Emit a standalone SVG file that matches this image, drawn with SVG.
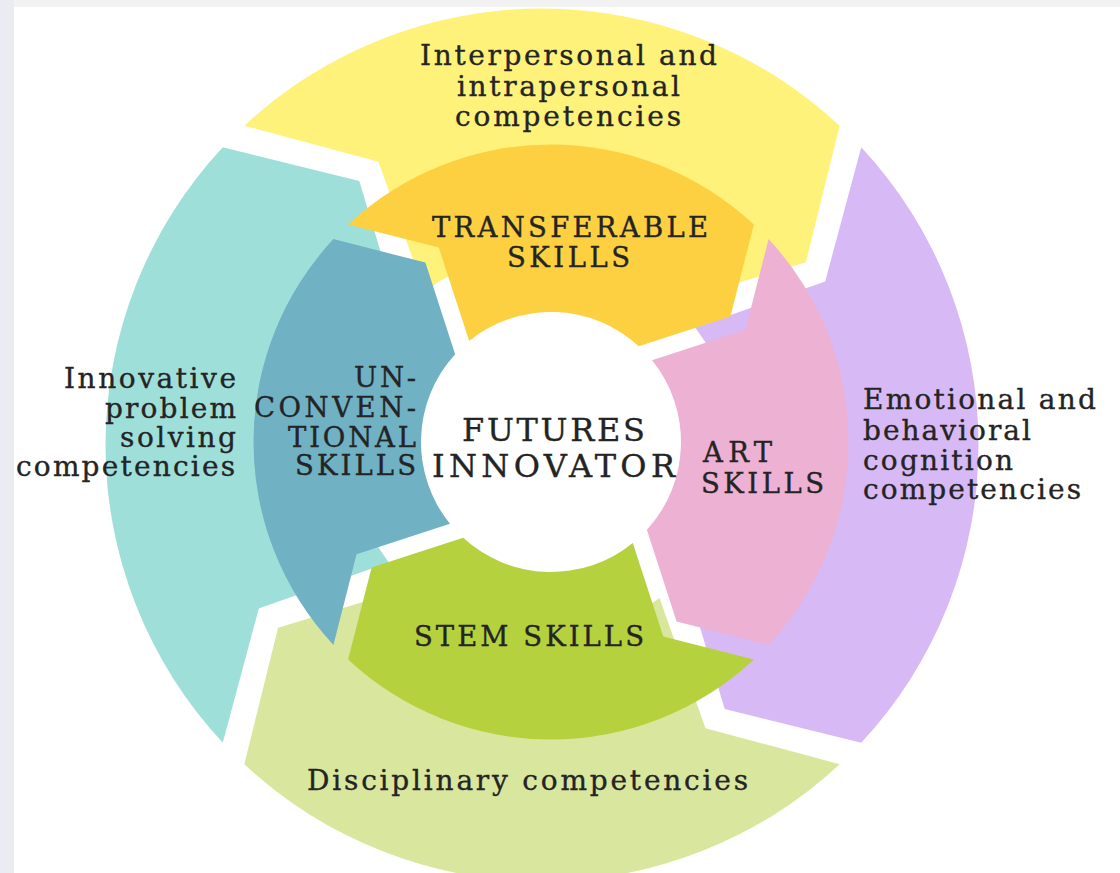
<svg xmlns="http://www.w3.org/2000/svg" width="1120" height="873" viewBox="0 0 1120 873">
<style>
.bg{fill:#ffffff}
.lbl{font-family:"DejaVu Serif","Liberation Serif",serif;font-size:28px;fill:#242424;stroke:#242424;stroke-width:0.35px}
.skill{font-family:"DejaVu Serif","Liberation Serif",serif;font-size:27.5px;fill:#242424;stroke:#242424;stroke-width:0.35px}
.core{font-family:"DejaVu Serif","Liberation Serif",serif;font-size:32px;fill:#242424;stroke:#242424;stroke-width:0.35px}
.yellow{fill:#FFF27B}
.purple{fill:#D7B9F5}
.lgreen{fill:#D9E69E}
.lteal{fill:#9FDFDA}
.orange{fill:#FDD042}
.pink{fill:#EDB1D4}
.green{fill:#B5D13D}
.dteal{fill:#70B1C4}
</style>
<rect x="0" y="0" width="1120" height="873" fill="#f2f2f2"/>
<rect x="0" y="0" width="14" height="873" fill="#e9ecf1"/>
<rect x="14" y="7" width="1106" height="866" class="bg"/>

<g id="outer-ring">
<g id="interpersonal">
<path class="yellow" d="M244.31 125.77 A436.5 436.5 0 0 1 839.69 125.77 L805.91 262.26 L672.39 302.70 A193 193 0 0 0 424.51 291.88 L378.5 161.81 Z"/>
<text class="lbl"><tspan x="420" y="65" textLength="297" lengthAdjust="spacing">Interpersonal and</tspan><tspan x="457" y="96" textLength="223" lengthAdjust="spacing">intrapersonal</tspan><tspan x="455" y="126" textLength="226" lengthAdjust="spacing">competencies</tspan></text>
</g>
<g id="emotional">
<path class="purple" d="M861.23 147.31 A436.5 436.5 0 0 1 861.23 742.69 L724.74 708.91 L684.30 575.39 A193 193 0 0 0 695.12 327.51 L825.19 281.5 Z"/>
<text class="lbl"><tspan x="863" y="409" textLength="233" lengthAdjust="spacing">Emotional and</tspan><tspan x="863" y="440" textLength="168" lengthAdjust="spacing">behavioral</tspan><tspan x="863" y="470" textLength="150" lengthAdjust="spacing">cognition</tspan><tspan x="863" y="499" textLength="218" lengthAdjust="spacing">competencies</tspan></text>
</g>
<g id="disciplinary">
<path class="lgreen" d="M839.69 764.23 A436.5 436.5 0 0 1 244.31 764.23 L278.09 627.74 L411.61 587.30 A193 193 0 0 0 659.49 598.12 L705.5 728.19 Z"/>
<text class="lbl" x="307" y="790" textLength="441" lengthAdjust="spacing">Disciplinary competencies</text>
</g>
<g id="innovative">
<path class="lteal" d="M222.77 742.69 A436.5 436.5 0 0 1 222.77 147.31 L359.26 181.09 L399.70 314.61 A193 193 0 0 0 388.88 562.49 L258.81 608.5 Z"/>
<text class="lbl" text-anchor="end"><tspan x="236" y="388" textLength="172" lengthAdjust="spacing">Innovative</tspan><tspan x="236" y="417.5" textLength="131" lengthAdjust="spacing">problem</tspan><tspan x="236" y="446.5" textLength="116" lengthAdjust="spacing">solving</tspan><tspan x="235" y="476" textLength="219" lengthAdjust="spacing">competencies</tspan></text>
</g>
</g>

<g id="inner-ring">
<g id="transferable">
<path class="orange" d="M348.10 224.42 A297.5 297.5 0 0 1 753.90 224.42 L730.39 316.39 L638.83 346.15 A130 130 0 0 0 469.19 340.97 L438.75 247.58 Z"/>
<text class="skill"><tspan x="432" y="237" textLength="276" lengthAdjust="spacing">TRANSFERABLE</tspan><tspan x="507" y="267" textLength="123" lengthAdjust="spacing">SKILLS</tspan></text>
</g>
<g id="art">
<path class="pink" d="M768.58 239.10 A297.5 297.5 0 0 1 768.58 644.90 L676.61 621.39 L646.85 529.83 A130 130 0 0 0 652.03 360.19 L745.42 329.75 Z"/>
<text class="skill"><tspan x="703" y="461.5" textLength="69" lengthAdjust="spacing">ART</tspan><tspan x="701" y="493" textLength="123" lengthAdjust="spacing">SKILLS</tspan></text>
</g>
<g id="stem">
<path class="green" d="M753.90 659.58 A297.5 297.5 0 0 1 348.10 659.58 L371.61 567.61 L463.17 537.85 A130 130 0 0 0 632.81 543.03 L663.25 636.42 Z"/>
<text class="skill" x="414" y="646" textLength="230" lengthAdjust="spacing">STEM SKILLS</text>
</g>
<g id="unconventional">
<path class="dteal" d="M333.42 644.90 A297.5 297.5 0 0 1 333.42 239.10 L425.39 262.61 L455.15 354.17 A130 130 0 0 0 449.97 523.81 L356.58 554.25 Z"/>
<text class="skill" text-anchor="end"><tspan x="416" y="387" textLength="62" lengthAdjust="spacing">UN-</tspan><tspan x="416" y="417" textLength="162" lengthAdjust="spacing">CONVEN-</tspan><tspan x="416" y="446.5" textLength="128" lengthAdjust="spacing">TIONAL</tspan><tspan x="416" y="475" textLength="121" lengthAdjust="spacing">SKILLS</tspan></text>
</g>
</g>

<g id="futures-innovator">
<text class="core"><tspan x="462" y="440.5" textLength="183" lengthAdjust="spacing">FUTURES</tspan><tspan x="432" y="477" textLength="243" lengthAdjust="spacing">INNOVATOR</tspan></text>
</g>

<g id="connectors"/>
</svg>
